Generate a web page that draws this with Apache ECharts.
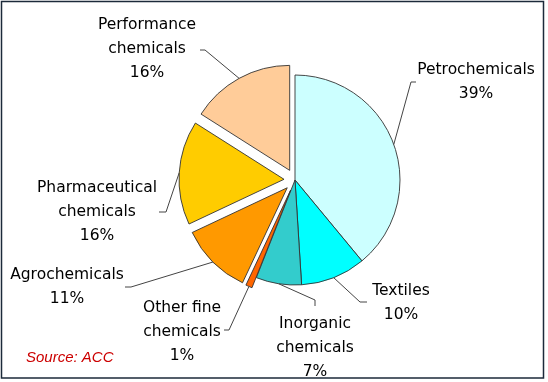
<!DOCTYPE html>
<html><head><meta charset="utf-8">
<script src="https://cdn.jsdelivr.net/npm/echarts@6/dist/echarts.min.js"></script>
<style>html,body{margin:0;padding:0;background:#fff}#c{width:548px;height:382px}</style>
</head><body><div id="c"></div>
<script>
// ---- data ----
const categories = ['Petrochemicals','Textiles','Inorganic chemicals','Other fine chemicals','Agrochemicals','Pharmaceutical chemicals','Performance chemicals'];
const labelTexts = ['Petrochemicals','Textiles','Inorganic\nchemicals','Other fine\nchemicals','Agrochemicals','Pharmaceutical\nchemicals','Performance\nchemicals'];
const shares = [39, 10, 7, 1, 11, 16, 16];
const exploded = [false, false, false, true, true, true, true];
const sourceText = 'Source: ACC';

// ---- styles / layout ----
const colors = ['#CCFFFF','#00FFFF','#33CCCC','#FF6600','#FF9900','#FFCC00','#FFCC99'];
const CX = 295, CY = 180, R = 105, OFFSET = 11;
// label block centres
const labelAnchors = [[476,82],[401,303],[315,348],[182,332],[67,287],[97,212],[147,49]];
// leader line elbow and end (near the label)
const leaderEnds = [
  [[411,82],[416,82]],
  [[360,302],[367,302]],
  [[315,300],[315,306]],
  [[229,330],[224,330]],
  [[131,287],[125,287]],
  [[166,212],[159,212]],
  [[205,50],[200,50]]
];

const total = shares.reduce((a,b)=>a+b,0);
function arcMid(i){
  let before = 0;
  for (let k=0;k<i;k++) before += shares[k];
  const theta = (before + shares[i]/2) / total * 2 * Math.PI; // clockwise from top
  const dx = Math.sin(theta), dy = -Math.cos(theta);
  const off = exploded[i] ? OFFSET : 0;
  return [CX + dx*(R+off), CY + dy*(R+off)];
}

const common = {
  type: 'pie',
  center: [CX, CY],
  radius: R,
  startAngle: 90,
  clockwise: true,
  avoidLabelOverlap: false,
  emphasis: {disabled: true}
};

const chart = echarts.init(document.getElementById('c'), null, {renderer:'canvas'});
chart.setOption({
  animation: false,
  backgroundColor: '#fff',
  graphic: [
    {type:'rect', shape:{x:1.5,y:1.5,width:542,height:376.5}, style:{fill:'none', stroke:'#1c2a3a', lineWidth:1.5}, z:10},
    {type:'text', left:26, top:350, style:{text:sourceText, font:'italic 15px "Liberation Sans", Arial, sans-serif', fill:'#CC0000'}}
  ],
  series: [
    Object.assign({}, common, {
      name: 'slices',
      selectedMode: 'multiple',
      selectedOffset: OFFSET,
      itemStyle: {borderColor: '#333', borderWidth: 0.9},
      label: {show: false},
      labelLine: {show: false},
      data: categories.map((c, i) => ({
        name: c, value: shares[i], selected: exploded[i],
        itemStyle: {color: colors[i]}
      }))
    }),
    Object.assign({}, common, {
      name: 'labels',
      silent: true,
      z: 3,
      itemStyle: {color: 'rgba(0,0,0,0)', borderWidth: 0},
      label: {
        show: true,
        formatter: p => labelTexts[p.dataIndex] + '\n' + p.value + '%',
        fontFamily: '"DejaVu Sans", Verdana, sans-serif',
        fontSize: 15.5,
        lineHeight: 24,
        color: '#000',
        align: 'center'
      },
      labelLine: {show: true, lineStyle: {color: '#444', width: 1}},
      labelLayout: function (p) {
        const i = p.dataIndex;
        const a = labelAnchors[i];
        return {
          x: a[0], y: a[1], align: 'center', verticalAlign: 'middle',
          labelLinePoints: [arcMid(i), leaderEnds[i][0], leaderEnds[i][1]]
        };
      },
      data: categories.map((c, i) => ({name: c, value: shares[i]}))
    })
  ]
});
</script>
</body></html>
